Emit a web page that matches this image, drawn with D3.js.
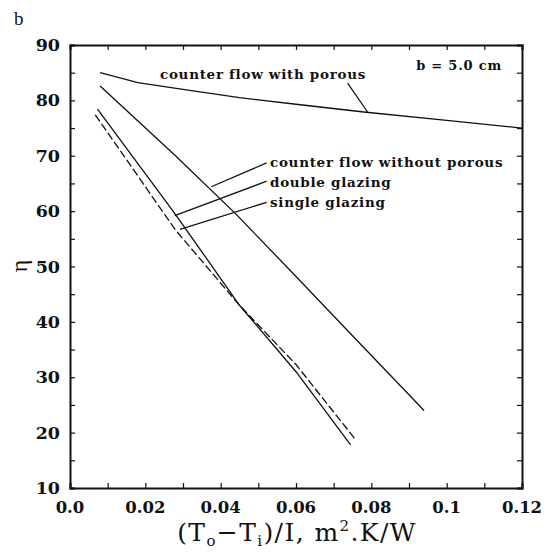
<!DOCTYPE html>
<html>
<head>
<meta charset="utf-8">
<script src="https://cdn.jsdelivr.net/npm/d3@7"></script>
<style>
  html, body { margin: 0; padding: 0; background: #fff; }
  svg { display: block; }
</style>
</head>
<body>
<svg id="chart" width="550" height="553"></svg>
<script>
// Collector efficiency vs. reduced temperature difference, b = 5.0 cm
const xTicks = [0.0, 0.02, 0.04, 0.06, 0.08, 0.1, 0.12];
const xTickLabels = ["0.0", "0.02", "0.04", "0.06", "0.08", "0.1", "0.12"];
const yTicks = [10, 20, 30, 40, 50, 60, 70, 80, 90];

const porousX = [0.008, 0.018, 0.030, 0.045, 0.060, 0.078, 0.100, 0.120];
const porousY = [85.0, 83.2, 82.0, 80.5, 79.3, 77.9, 76.4, 75.0];

const noPorousX = [0.008, 0.028, 0.044, 0.060, 0.075, 0.094];
const noPorousY = [82.6, 70.0, 59.5, 48.2, 37.5, 24.0];

const doubleX = [0.0073, 0.0277, 0.045, 0.060, 0.0745];
const doubleY = [78.4, 59.7, 43.0, 31.0, 17.8];

const singleX = [0.0067, 0.028, 0.045, 0.060, 0.0755];
const singleY = [77.4, 56.6, 43.0, 32.3, 19.0];

// Curve labels with their leader lines (label anchor -> curve)
const labelNames = ["counter flow with porous", "counter flow without porous", "double glazing", "single glazing"];
const leaderFromX = [0.0737, 0.0522, 0.0522, 0.0522];
const leaderFromY = [83.1, 68.7, 65.4, 61.6];
const leaderToX = [0.0790, 0.0375, 0.0278, 0.0292];
const leaderToY = [77.9, 64.4, 59.2, 56.7];

const svg = d3.select("#chart");
const mLeft = 70, mRight = 522, mTop = 45, mBottom = 488;

const x = d3.scaleLinear().domain([0, 0.12]).range([mLeft, mRight]);
const y = d3.scaleLinear().domain([10, 90]).range([mBottom, mTop]);

const ink = "#111";
const serif = "'DejaVu Serif', 'Liberation Serif', serif";

// Inward ticks on all four sides
const axB = d3.axisBottom(x).tickValues(d3.range(0, 0.1201, 0.01)).tickSize(-5).tickFormat("");
const axT = d3.axisTop(x).tickValues(d3.range(0, 0.1201, 0.01)).tickSize(-5).tickFormat("");
const axL = d3.axisLeft(y).tickValues(d3.range(10, 90.1, 5)).tickSize(-5).tickFormat("");
const axR = d3.axisRight(y).tickValues(d3.range(10, 90.1, 5)).tickSize(-5).tickFormat("");

const axes = [
  svg.append("g").attr("transform", `translate(0,${mBottom})`).call(axB),
  svg.append("g").attr("transform", `translate(0,${mTop})`).call(axT),
  svg.append("g").attr("transform", `translate(${mLeft},0)`).call(axL),
  svg.append("g").attr("transform", `translate(${mRight},0)`).call(axR)
];
axes.forEach(g => {
  g.select(".domain").attr("stroke", ink).attr("stroke-width", 2);
  g.selectAll(".tick line").attr("stroke", ink).attr("stroke-width", 1.2);
});

// Tick labels
svg.append("g").selectAll("text").data(xTicks).join("text")
  .attr("x", d => x(d)).attr("y", mBottom + 25)
  .attr("text-anchor", "middle")
  .attr("font-family", serif).attr("font-weight", "bold").attr("font-size", 16.5)
  .attr("fill", ink)
  .text((d, i) => xTickLabels[i]);

svg.append("g").selectAll("text").data(yTicks).join("text")
  .attr("x", mLeft - 10).attr("y", d => y(d) + 6)
  .attr("text-anchor", "end")
  .attr("font-family", serif).attr("font-weight", "bold").attr("font-size", 17.5)
  .attr("fill", ink)
  .text(d => d);

// Axis titles
const xt = svg.append("text")
  .attr("x", 297).attr("y", 541)
  .attr("text-anchor", "middle")
  .attr("font-family", serif).attr("font-size", 25)
  .attr("letter-spacing", 1.4)
  .attr("fill", ink);
xt.append("tspan").text("(T");
xt.append("tspan").attr("font-size", 15).attr("dy", 5).text("o");
xt.append("tspan").attr("dy", -5).text("\u2212T");
xt.append("tspan").attr("font-size", 15).attr("dy", 5).text("i");
xt.append("tspan").attr("dy", -5).text(")/I, m");
xt.append("tspan").attr("font-size", 15).attr("dy", -10).text("2");
xt.append("tspan").attr("dy", 10).text(".K/W");

svg.append("text")
  .attr("transform", "translate(27,266) rotate(-90)")
  .attr("text-anchor", "middle")
  .attr("font-family", "'Liberation Serif', serif").attr("font-size", 24)
  .attr("fill", ink)
  .text("\u03B7");

svg.append("text")
  .attr("x", 14).attr("y", 25)
  .attr("font-family", "'Liberation Serif', serif").attr("font-size", 19)
  .attr("fill", ink)
  .text("b");

svg.append("text")
  .attr("x", 502).attr("y", 70)
  .attr("text-anchor", "end")
  .attr("font-family", serif).attr("font-weight", "bold").attr("font-size", 13)
  .attr("letter-spacing", 0.8)
  .attr("fill", ink)
  .text("b = 5.0 cm");

// Curves
const line = d3.line().x(d => x(d[0])).y(d => y(d[1]));
const series = [
  { xs: porousX, ys: porousY, dash: null },
  { xs: noPorousX, ys: noPorousY, dash: null },
  { xs: doubleX, ys: doubleY, dash: null },
  { xs: singleX, ys: singleY, dash: "8,3" }
];
svg.append("g").selectAll("path").data(series).join("path")
  .attr("d", s => line(s.xs.map((v, i) => [v, s.ys[i]])))
  .attr("fill", "none").attr("stroke", ink).attr("stroke-width", 1.3)
  .attr("stroke-dasharray", s => s.dash);

// Leader lines
svg.append("g").selectAll("line").data(labelNames).join("line")
  .attr("x1", (d, i) => x(leaderFromX[i])).attr("y1", (d, i) => y(leaderFromY[i]))
  .attr("x2", (d, i) => x(leaderToX[i])).attr("y2", (d, i) => y(leaderToY[i]))
  .attr("stroke", ink).attr("stroke-width", 1.3);

// Curve labels
const labelX = [160, 270, 270, 270];
const labelY = [79, 167, 187, 207];
svg.append("g").selectAll("text").data(labelNames).join("text")
  .attr("x", (d, i) => labelX[i]).attr("y", (d, i) => labelY[i])
  .attr("font-family", serif).attr("font-weight", "bold").attr("font-size", 13.5)
  .attr("letter-spacing", 0.7)
  .attr("fill", ink)
  .text(d => d);
</script>
</body>
</html>
